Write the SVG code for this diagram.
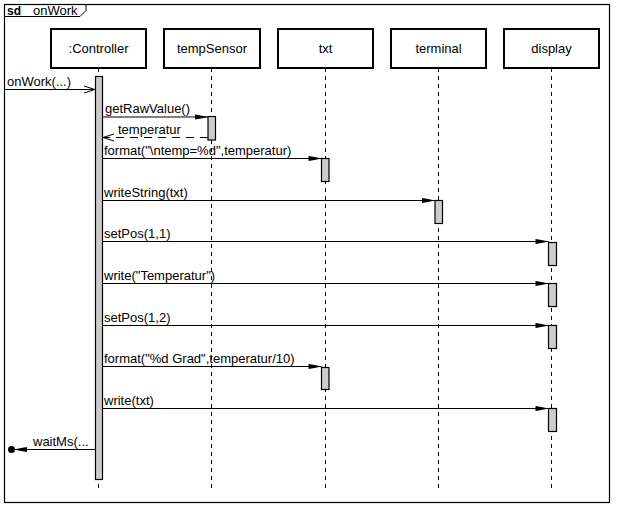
<svg xmlns="http://www.w3.org/2000/svg" width="618" height="509" viewBox="0 0 618 509">
<style>
text{font-family:"Liberation Sans",Arial,sans-serif;fill:#000}
.head{fill:#fff;stroke:#000;stroke-width:2}
.hl{font-size:13px;text-anchor:middle}
.life{stroke:#000;stroke-width:1;stroke-dasharray:4,4;fill:none}
.act{fill:#ccc;stroke:#000;stroke-width:1.2}
.msg{stroke:#000;stroke-width:1.2;fill:none}
.ml{font-size:13px}
</style>
<defs>
<marker id="fa" markerWidth="18" markerHeight="8" refX="16" refY="4" orient="auto" markerUnits="userSpaceOnUse">
<path d="M16,4 L9,2.5 L3,1.5 L3,6.5 L9,5.5 Z" fill="#000"/>
</marker>
<marker id="oa" markerWidth="14" markerHeight="10" refX="12" refY="5" orient="auto" markerUnits="userSpaceOnUse">
<path d="M1,1.5 L12,5 L1,8.5" fill="none" stroke="#000" stroke-width="1"/>
</marker>
</defs>
<rect width="618" height="509" fill="#fff"/>
<g id="frame">
<rect x="4.5" y="4.5" width="605" height="498" fill="none" stroke="#000" stroke-width="1.2"/>
<path d="M4.5,16.5 H80 L86,10.5 V4.5" fill="none" stroke="#000" stroke-width="1"/>
<text x="7" y="15" style="font-size:12px;font-weight:bold">sd</text>
<text x="33" y="15" style="font-size:13px">onWork</text>
</g>
<g id="controller">
<rect class="head" x="51" y="29" width="95" height="39"/>
<text class="hl" x="98.5" y="53">:Controller</text>
<line class="life" x1="98.5" y1="68" x2="98.5" y2="490"/>
<rect class="act" x="95.5" y="76.5" width="7" height="403"/>
</g>
<g id="tempSensor">
<rect class="head" x="164" y="29" width="96" height="39"/>
<text class="hl" x="212" y="53">tempSensor</text>
<line class="life" x1="211.5" y1="68" x2="211.5" y2="490"/>
<rect class="act" x="208" y="116.5" width="7.5" height="23.5"/>
</g>
<g id="txt">
<rect class="head" x="278" y="29" width="95" height="39"/>
<text class="hl" x="325.5" y="53">txt</text>
<line class="life" x1="325.5" y1="68" x2="325.5" y2="490"/>
<rect class="act" x="321.5" y="158.5" width="7.5" height="23"/>
<rect class="act" x="321.5" y="367.5" width="7.5" height="22"/>
</g>
<g id="terminal">
<rect class="head" x="391" y="29" width="95" height="39"/>
<text class="hl" x="438.5" y="53">terminal</text>
<line class="life" x1="438.5" y1="68" x2="438.5" y2="490"/>
<rect class="act" x="435" y="200.5" width="7.5" height="23"/>
</g>
<g id="display">
<rect class="head" x="504" y="29" width="95" height="39"/>
<text class="hl" x="551.5" y="53">display</text>
<line class="life" x1="551.5" y1="68" x2="551.5" y2="490"/>
<rect class="act" x="548.5" y="242.5" width="8" height="23"/>
<rect class="act" x="548.5" y="283.5" width="8" height="23"/>
<rect class="act" x="548.5" y="325.5" width="8" height="23"/>
<rect class="act" x="548.5" y="408.5" width="8" height="23"/>
</g>
<g id="connectors">
<line class="msg" x1="5" y1="89.5" x2="95" y2="89.5" marker-end="url(#oa)"/>
<text class="ml" x="7" y="86">onWork(...)</text>
<line class="msg" x1="102.5" y1="117" x2="208" y2="117" marker-end="url(#fa)"/>
<text class="ml" x="105" y="113">getRawValue()</text>
<line class="msg" x1="208" y1="137.5" x2="103" y2="137.5" stroke-dasharray="8,6" marker-end="url(#oa)"/>
<text class="ml" x="118" y="134">temperatur</text>
<line class="msg" x1="102.5" y1="158.5" x2="321.5" y2="158.5" marker-end="url(#fa)"/>
<text class="ml" x="104" y="155">format("\ntemp=%d",temperatur)</text>
<line class="msg" x1="102.5" y1="200.5" x2="435" y2="200.5" marker-end="url(#fa)"/>
<text class="ml" x="104" y="197">writeString(txt)</text>
<line class="msg" x1="102.5" y1="241.5" x2="548.5" y2="241.5" marker-end="url(#fa)"/>
<text class="ml" x="104" y="238">setPos(1,1)</text>
<line class="msg" x1="102.5" y1="283.5" x2="548.5" y2="283.5" marker-end="url(#fa)"/>
<text class="ml" x="104" y="280">write("Temperatur")</text>
<line class="msg" x1="102.5" y1="325.5" x2="548.5" y2="325.5" marker-end="url(#fa)"/>
<text class="ml" x="104" y="322">setPos(1,2)</text>
<line class="msg" x1="102.5" y1="366.5" x2="321.5" y2="366.5" marker-end="url(#fa)"/>
<text class="ml" x="104" y="363">format("%d Grad",temperatur/10)</text>
<line class="msg" x1="102.5" y1="408.5" x2="548.5" y2="408.5" marker-end="url(#fa)"/>
<text class="ml" x="104" y="405">write(txt)</text>
<line class="msg" x1="95.5" y1="449.5" x2="14" y2="449.5" marker-end="url(#fa)"/>
<circle cx="11.5" cy="449.5" r="3.5" fill="#000"/>
<text class="ml" x="33" y="446">waitMs(...</text>
</g>
</svg>
